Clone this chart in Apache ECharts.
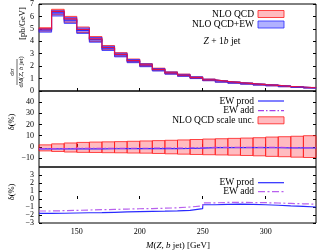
<!DOCTYPE html>
<html><head><meta charset="utf-8">
<script src="https://cdn.jsdelivr.net/npm/echarts@6/dist/echarts.min.js"></script>
<style>html,body{margin:0;padding:0;background:#fff}#c{width:318px;height:252px}</style>
</head><body><div id="c"></div>
<script>
// bin edges in GeV
const binEdges = [120,130,140,150,160,170,180,190,200,210,220,230,240,250,260,270,280,290,300,310,320,330,340];
// dsigma/dM [pb/GeV]
const nloQcd   = [5.00,6.40,5.80,4.95,4.20,3.50,2.95,2.45,2.10,1.74,1.46,1.28,1.08,0.90,0.77,0.68,0.60,0.52,0.46,0.38,0.32,0.26];
const nloQcdEw = [4.91,6.29,5.70,4.87,4.13,3.44,2.90,2.41,2.07,1.71,1.44,1.26,1.07,0.89,0.76,0.67,0.59,0.51,0.45,0.377,0.317,0.257];
// NLO QCD scale uncertainty [%]
const scaleUp   = [1.8,2.7,3.5,4.0,4.3,4.5,4.7,5.0,5.3,5.6,5.9,6.2,6.6,7.0,7.3,7.6,7.9,8.2,8.8,9.1,9.5,10.0];
const scaleDown = [-3.6,-4.1,-4.6,-4.9,-5.0,-5.2,-5.3,-5.5,-5.6,-5.9,-6.2,-6.5,-6.8,-7.0,-7.2,-7.4,-7.7,-8.0,-8.5,-8.8,-9.2,-9.5];
// EW corrections [%]
const ewProd = [-1.80,-1.78,-1.75,-1.72,-1.70,-1.66,-1.62,-1.58,-1.55,-1.52,-1.48,-1.42,-1.20,-0.72,-0.66,-0.65,-0.68,-0.72,-0.78,-0.86,-0.93,-1.00];
const ewAdd  = [-1.50,-1.46,-1.42,-1.38,-1.34,-1.30,-1.26,-1.22,-1.20,-1.15,-1.10,-1.00,-0.85,-0.48,-0.43,-0.42,-0.44,-0.46,-0.50,-0.55,-0.60,-0.65];
// tick labels
const xTicks = [150,200,250,300];
const yTicksTop = [0,1,2,3,4,5,6,7];
const yTicksMid = [-10,0,10,20,30,40];
const yTicksBot = [-3,-2,-1,0,1,2,3];

const FONT = '"Liberation Serif", "DejaVu Serif", serif';
const fmt = v => String(v).replace('-', '\u2212');

function bandData(lo, hi){ return lo.map((l,i)=>[binEdges[i], binEdges[i+1], l, hi[i]]); }
function stepData(vals){ return binEdges.map((x,i)=>[x, vals[Math.min(i, vals.length-1)]]); }
function bandSeries(name, xi, data, fill, stroke){
  return {type:'custom', name, xAxisIndex:xi, yAxisIndex:xi, data, z:2, silent:true,
    renderItem:(params, api)=>{
      const p0 = api.coord([api.value(0), api.value(3)]);
      const p1 = api.coord([api.value(1), api.value(2)]);
      return {type:'rect', shape:{x:p0[0], y:p0[1], width:p1[0]-p0[0], height:p1[1]-p0[1]},
        style:{fill, stroke, lineWidth:0.8}};
    }};
}
function stepSeries(name, xi, vals, color, type){
  return {type:'line', name, xAxisIndex:xi, yAxisIndex:xi, data:stepData(vals), step:'end',
    showSymbol:false, symbol:'none', z:4, silent:true,
    lineStyle:{color, width:1.2, type:type||'solid'}};
}

const qcdLo = nloQcd.map((v,i)=>v*(1+scaleDown[i]/100));
const qcdHi = nloQcd.map((v,i)=>v*(1+scaleUp[i]/100));
const ewLo = nloQcdEw.map((v,i)=>v*(1+scaleDown[i]/100));
const ewHi = nloQcdEw.map((v,i)=>v*(1+scaleUp[i]/100));

const gridDefs = [{top:3,height:88},{top:91,height:76},{top:167,height:56}];
const yRanges = [[0,7,yTicksTop],[-18,50,yTicksMid],[-3,4,yTicksBot]];

const grids = gridDefs.map(g=>({left:39, right:2, top:g.top, height:g.height, show:true,
  borderColor:'#000', borderWidth:1, backgroundColor:'transparent', containLabel:false}));
const xAxes = [0,1,2].map(i=>({type:'value', gridIndex:i, min:120, max:340,
  axisLine:{show:false}, splitLine:{show:false},
  axisTick:{show:true, inside:true, length:3, customValues:xTicks, lineStyle:{color:'#000'}},
  axisLabel:{show:i===2, customValues:xTicks, formatter:fmt, color:'#000', fontFamily:FONT, fontSize:8, margin:5}}));
const yAxes = [];
[0,1,2].forEach(i=>{
  const [mn,mx,t] = yRanges[i];
  yAxes.push({type:'value', gridIndex:i, min:mn, max:mx, position:'left',
    axisLine:{show:false}, splitLine:{show:false},
    axisTick:{show:true, inside:true, length:3, customValues:t, lineStyle:{color:'#000'}},
    axisLabel:{customValues:t, formatter:fmt, color:'#000', fontFamily:FONT, fontSize:8, margin:5}});
});
[0,1,2].forEach(i=>{
  const [mn,mx,t] = yRanges[i];
  yAxes.push({type:'value', gridIndex:i, min:mn, max:mx, position:'right',
    axisLine:{show:false}, splitLine:{show:false},
    axisTick:{show:true, inside:true, length:3, customValues:t, lineStyle:{color:'#000'}},
    axisLabel:{show:false}});
});

const RED_FILL='rgba(255,60,75,0.35)', RED='#ff1a1a';
const BLUE_FILL='rgba(50,50,255,0.38)', BLUE='#2a2aff';
const PURPLE='#a640ea';

const series = [
  bandSeries('NLO QCD', 0, bandData(qcdLo, qcdHi), RED_FILL, RED),
  bandSeries('NLO QCD+EW', 0, bandData(ewLo, ewHi), BLUE_FILL, BLUE),
  stepSeries('NLO QCD+EW c', 0, nloQcdEw, BLUE),
  stepSeries('NLO QCD c', 0, nloQcd, '#e0104a'),
  bandSeries('NLO QCD scale unc.', 1, bandData(scaleDown, scaleUp), RED_FILL, RED),
  stepSeries('EW prod', 1, ewProd, BLUE),
  stepSeries('EW add', 1, ewAdd, PURPLE, [6,2,1.5,2]),
  stepSeries('EW prod b', 2, ewProd, BLUE),
  stepSeries('EW add b', 2, ewAdd, '#b860ee', [7,2.5,2,2.5])
];

const LF = '9.5px ' + FONT;
function legText(t, y){ return {type:'text', x:254, y, style:{text:t, font:LF, fill:'#000', textAlign:'right', textVerticalAlign:'middle'}}; }
function legRect(y, fill, stroke){ return {type:'rect', shape:{x:258, y:y-3.5, width:26, height:7}, style:{fill, stroke, lineWidth:0.8}}; }
function legLine(y, color, dash){ return {type:'line', shape:{x1:258, y1:y, x2:284, y2:y}, style:{stroke:color, lineWidth:1.2, lineDash:dash||null}}; }

const graphic = [
  legText('NLO QCD', 14), legRect(14, RED_FILL, RED),
  legText('NLO QCD+EW', 24.5), legRect(24.5, BLUE_FILL, BLUE),
  {type:'text', x:222, y:41, style:{text:'{i|Z} + 1{i|b} jet', font:LF, fill:'#000', textAlign:'center', textVerticalAlign:'middle',
    rich:{i:{fontStyle:'italic', fontFamily:FONT, fontSize:9.5}}}},
  legText('EW prod', 101), legLine(101, BLUE),
  legText('EW add', 110.7), legLine(110.7, PURPLE, [6,2,1.5,2]),
  legText('NLO QCD scale unc.', 120.3), legRect(120.3, RED_FILL, RED),
  legText('EW prod', 182.7), legLine(182.7, BLUE),
  legText('EW add', 191.7), legLine(191.7, '#b860ee', [7,2.5,2,2.5]),
  // y titles
  {type:'group', x:17, y:72, rotation:Math.PI/2, children:[
    {type:'text', x:0, y:-5, style:{text:'d\u03c3', font:'7px '+FONT, fill:'#000', textAlign:'center', textVerticalAlign:'middle'}},
    {type:'line', shape:{x1:-13, y1:0, x2:13, y2:0}, style:{stroke:'#000', lineWidth:0.6}},
    {type:'text', x:0, y:4.5, style:{text:'d{i|M}({i|Z}, {i|b} jet)', font:'6.5px '+FONT, fill:'#000', textAlign:'center', textVerticalAlign:'middle',
      rich:{i:{fontStyle:'italic', fontFamily:FONT, fontSize:6.5}}}},
    {type:'text', x:48.5, y:5.5, style:{text:'[pb/GeV]', font:'8.5px '+FONT, fill:'#000', textAlign:'center', textVerticalAlign:'middle'}}
  ]},
  {type:'text', x:12, y:122, rotation:Math.PI/2, style:{text:'\u03b4(%)', font:'8.5px '+FONT, fill:'#000', textAlign:'center', textVerticalAlign:'middle'}},
  {type:'text', x:12, y:192, rotation:Math.PI/2, style:{text:'\u03b4(%)', font:'8.5px '+FONT, fill:'#000', textAlign:'center', textVerticalAlign:'middle'}},
  {type:'text', x:178, y:246, style:{text:'{i|M}({i|Z}, {i|b} jet) [GeV]', font:'9px '+FONT, fill:'#000', textAlign:'center', textVerticalAlign:'middle',
    rich:{i:{fontStyle:'italic', fontFamily:FONT, fontSize:9}}}}
];

const chart = echarts.init(document.getElementById('c'), null, {renderer:'canvas'});
chart.setOption({animation:false, backgroundColor:'#fff', grid:grids, xAxis:xAxes, yAxis:yAxes, series, graphic});
</script></body></html>
